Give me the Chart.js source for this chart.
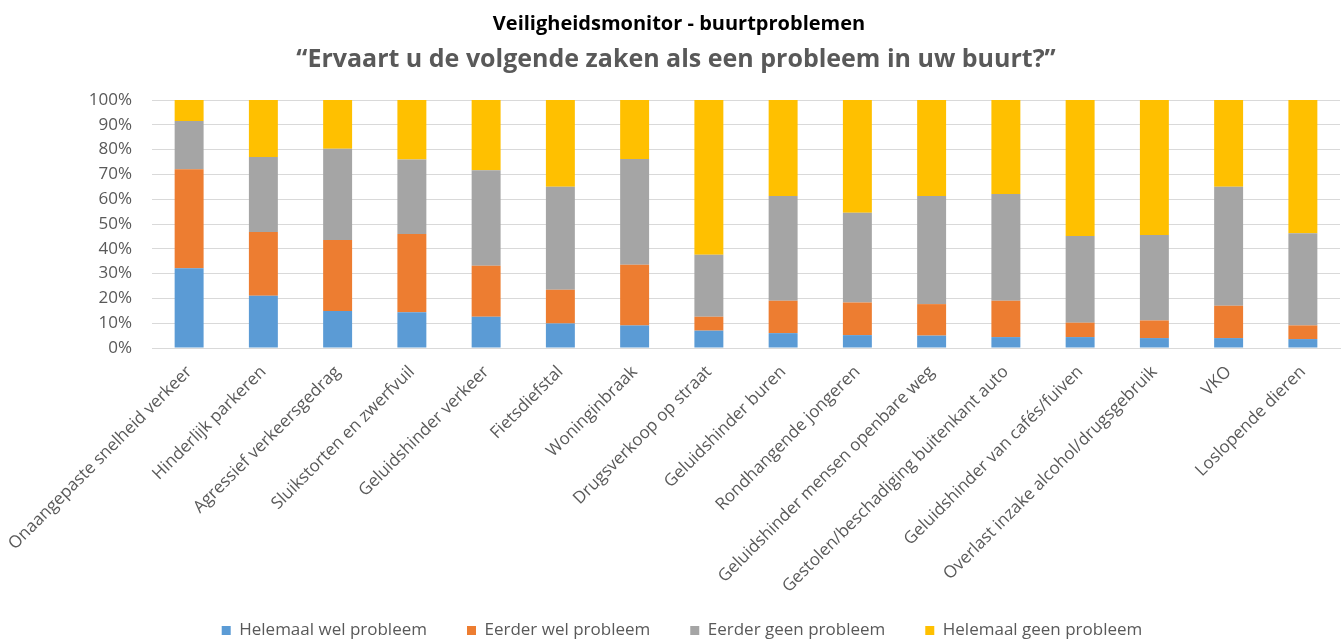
<!DOCTYPE html>
<html>
<head>
<meta charset="utf-8">
<script src="https://cdn.jsdelivr.net/npm/chart.js@4/dist/chart.umd.min.js"></script>
<style>
  html, body { margin: 0; padding: 0; background: #ffffff; }
  #wrap { width: 1343px; height: 639px; position: relative; }
</style>
</head>
<body>
<div id="wrap"><canvas id="chart" width="1343" height="639"></canvas></div>
<script>
// Buurtproblemen: aandeel antwoorden per categorie (in %)
const categories = [
  "Onaangepaste snelheid verkeer",
  "Hinderlijk parkeren",
  "Agressief verkeersgedrag",
  "Sluikstorten en zwerfvuil",
  "Geluidshinder verkeer",
  "Fietsdiefstal",
  "Woninginbraak",
  "Drugsverkoop op straat",
  "Geluidshinder buren",
  "Rondhangende jongeren",
  "Geluidshinder mensen openbare weg",
  "Gestolen/beschadiging buitenkant auto",
  "Geluidshinder van cafés/fuiven",
  "Overlast inzake alcohol/drugsgebruik",
  "VKO",
  "Loslopende dieren"
];

const helemaalWel   = [32.2, 21.1, 14.9, 14.4, 12.6,  9.9,  9.1,  7.0,  6.0,  5.2,  5.0,  4.4,  4.4,  4.0,  4.0,  3.6];
const eerderWel     = [39.9, 25.7, 28.6, 31.6, 20.6, 13.6, 24.5,  5.6, 13.1, 13.1, 12.7, 14.7,  5.8,  7.1, 13.0,  5.5];
const eerderGeen    = [19.4, 30.2, 36.8, 30.0, 38.5, 41.5, 42.6, 25.0, 42.2, 36.2, 43.6, 43.0, 35.0, 34.5, 48.0, 37.2];
const helemaalGeen  = [ 8.5, 23.0, 19.7, 24.0, 28.3, 35.0, 23.8, 62.4, 38.7, 45.5, 38.7, 37.9, 54.8, 54.4, 35.0, 53.7];

const seriesNames = ["Helemaal wel probleem", "Eerder wel probleem", "Eerder geen probleem", "Helemaal geen probleem"];
const yTicks = [0, 10, 20, 30, 40, 50, 60, 70, 80, 90, 100];

const titleText = "Veiligheidsmonitor - buurtproblemen";
const subtitleText = "\u201CErvaart u de volgende zaken als een probleem in uw buurt?\u201D";

const colors = ["#5B9BD5", "#ED7D31", "#A5A5A5", "#FFC000"];
const textGray = "#595959";
const gridGray = "#D9D9D9";

Chart.defaults.font.family = "'Open Sans', 'DejaVu Sans', sans-serif";

const seriesValues = [helemaalWel, eerderWel, eerderGeen, helemaalGeen];
const datasets = seriesValues.map((vals, i) => ({
  label: seriesNames[i],
  data: vals,
  backgroundColor: colors[i],
  borderWidth: 0,
  categoryPercentage: 1,
  barPercentage: 0.39
}));

// Small position tweaks after layout: legend row lower and a bit to the right,
// headings slightly right of centre, and room for the long rotated category labels.
const layoutTweaks = {
  id: "layoutTweaks",
  afterLayout(chart) {
    const lg = chart.legend;
    if (lg) { lg.top += 10; lg.bottom += 10; lg.left += 12; lg.right += 12; }
    chart.boxes.forEach((b) => {
      if (!b.options || b === lg) return;
      if (b.options.text === titleText) { b.left += 9; b.right += 9; }
      if (b.options.text === subtitleText) { b.left += 6; b.right += 6; }
    });
    const x = chart.scales.x;
    if (x) { x.bottom = chart.height; }
  }
};

new Chart(document.getElementById("chart"), {
  type: "bar",
  data: { labels: categories, datasets },
  plugins: [layoutTweaks],
  options: {
    responsive: false,
    animation: false,
    layout: { padding: { left: 0, right: 3, top: 0, bottom: 0 } },
    plugins: {
      title: {
        display: true,
        text: titleText,
        color: "#000000",
        font: { size: 20, weight: "bold" },
        padding: { top: 12, bottom: 6 }
      },
      subtitle: {
        display: true,
        text: subtitleText,
        color: textGray,
        font: { size: 25, weight: "bold" },
        padding: { top: 3, bottom: 25 }
      },
      legend: {
        position: "bottom",
        labels: {
          boxWidth: 9,
          boxHeight: 9,
          padding: 40,
          color: textGray,
          font: { size: 17 }
        }
      },
      tooltip: { enabled: false }
    },
    scales: {
      x: {
        stacked: true,
        grid: { display: false, drawTicks: false },
        border: { display: true, color: gridGray, width: 1 },
        ticks: {
          color: textGray,
          font: { size: 17 },
          minRotation: 45,
          maxRotation: 45,
          autoSkip: false,
          padding: 14
        },
        afterFit: (scale) => {
          scale.height = 224;
          scale.paddingLeft = 0;
          scale.paddingRight = 0;
        }
      },
      y: {
        stacked: true,
        min: 0,
        max: 100,
        afterBuildTicks: (scale) => { scale.ticks = yTicks.map(v => ({ value: v })); },
        grid: { color: gridGray, lineWidth: 1, drawTicks: false },
        border: { display: false },
        ticks: {
          color: textGray,
          font: { size: 17 },
          padding: 20,
          autoSkip: false,
          callback: (v) => v + "%"
        },
        afterFit: (scale) => { scale.width = 152; }
      }
    }
  }
});
</script>
</body>
</html>
